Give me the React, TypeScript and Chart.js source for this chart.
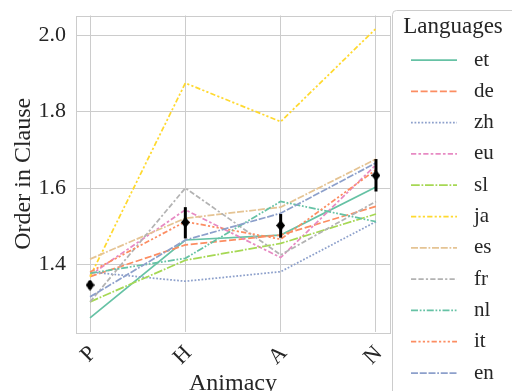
import React, { useEffect, useRef } from "react";
import { Chart, registerables } from "chart.js";

Chart.register(...registerables);

const categories = ["P", "H", "A", "N"];
const languages = ["et", "de", "zh", "eu", "sl", "ja", "es", "fr", "nl", "it", "en"];

const et = [1.26, 1.464, 1.477, 1.603];
const de = [1.368, 1.451, 1.477, 1.552];
const zh = [1.38, 1.356, 1.381, 1.512];
const eu = [1.372, 1.543, 1.418, 1.661];
const sl = [1.302, 1.411, 1.455, 1.532];
const ja = [1.368, 1.875, 1.774, 2.018];
const es = [1.414, 1.521, 1.55, 1.676];
const fr = [1.302, 1.6, 1.425, 1.565];
const nl = [1.377, 1.416, 1.565, 1.512];
const it = [1.38, 1.512, 1.466, 1.648];
const en = [1.315, 1.464, 1.534, 1.666];
const seriesValues = [et, de, zh, eu, sl, ja, es, fr, nl, it, en];

const meanValues = [1.346, 1.51, 1.502, 1.633];
const meanLower = [1.335, 1.468, 1.47, 1.591];
const meanUpper = [1.357, 1.55, 1.532, 1.676];

const yTicks = [1.4, 1.6, 1.8, 2.0];

// styles
const palette = ["#66c2a5", "#fc8d62", "#8da0cb", "#e78ac3", "#a6d854", "#ffd92f", "#e5c494", "#b3b3b3", "#66c2a5", "#fc8d62", "#8da0cb"];
const dashSpecs: number[][] = [
  [],
  [4, 1.5],
  [1, 1],
  [3, 1.25, 1.5, 1.25],
  [5, 1, 1, 1],
  [3, 1.25, 1.25, 1.25, 1.25, 1.25],
  [4, 1, 4, 1, 1, 1],
  [3, 1.25, 3, 1.25, 1.25, 1.25],
  [4, 1, 1, 1, 1, 1],
  [3, 1.25, 1.25, 1.25, 1.25, 1.25, 1.25, 1.25],
  [4, 1, 4, 1, 4, 1, 1, 1],
];
const LW = 1.75;
const FONT = "'Liberation Serif', 'Times New Roman', serif";
const TEXT = "#262626";
const GRID = "#cccccc";

function makeDiamond() {
  const c = document.createElement("canvas");
  c.width = 9;
  c.height = 11;
  const g = c.getContext("2d")!;
  g.fillStyle = "#000";
  g.beginPath();
  g.moveTo(4.5, 0);
  g.lineTo(9, 5.5);
  g.lineTo(4.5, 11);
  g.lineTo(0, 5.5);
  g.closePath();
  g.fill();
  return c;
}

const framePlugin = {
  id: "frame",
  beforeDatasetsDraw(chart: any) {
    const { ctx, chartArea: a } = chart;
    ctx.save();
    ctx.strokeStyle = GRID;
    ctx.lineWidth = 1;
    ctx.strokeRect(Math.round(a.left) + 0.5, Math.round(a.top) + 0.5, Math.round(a.right - a.left), Math.round(a.bottom - a.top));
    ctx.restore();
  },
};

const errorBarPlugin = {
  id: "errbars",
  afterDatasetsDraw(chart: any) {
    const { ctx } = chart;
    const xs = chart.scales.x;
    const ys = chart.scales.y;
    ctx.save();
    ctx.strokeStyle = "#000";
    ctx.lineWidth = 3;
    meanValues.forEach((_, i) => {
      const px = xs.getPixelForValue(i);
      ctx.beginPath();
      ctx.moveTo(px, ys.getPixelForValue(meanLower[i]));
      ctx.lineTo(px, ys.getPixelForValue(meanUpper[i]));
      ctx.stroke();
    });
    ctx.restore();
  },
};

const legendPlugin = {
  id: "customLegend",
  afterDraw(chart: any) {
    const { ctx } = chart;
    const left = 392.5;
    const top = 10.5;
    const w = 140;
    const h = 420;
    const r = 4;
    ctx.save();
    ctx.beginPath();
    ctx.moveTo(left + r, top);
    ctx.lineTo(left + w - r, top);
    ctx.arcTo(left + w, top, left + w, top + r, r);
    ctx.lineTo(left + w, top + h - r);
    ctx.arcTo(left + w, top + h, left + w - r, top + h, r);
    ctx.lineTo(left + r, top + h);
    ctx.arcTo(left, top + h, left, top + h - r, r);
    ctx.lineTo(left, top + r);
    ctx.arcTo(left, top, left + r, top, r);
    ctx.closePath();
    ctx.fillStyle = "rgba(255,255,255,0.8)";
    ctx.fill();
    ctx.strokeStyle = GRID;
    ctx.lineWidth = 1;
    ctx.stroke();

    ctx.fillStyle = TEXT;
    ctx.font = `23px ${FONT}`;
    ctx.textAlign = "center";
    ctx.textBaseline = "alphabetic";
    ctx.fillText("Languages", 453, 33);

    const ds = chart.data.datasets.filter((d: any) => d.isSeries);
    ds.forEach((d: any, i: number) => {
      const y = 60 + i * 31.3;
      ctx.strokeStyle = d.borderColor;
      ctx.lineWidth = d.borderWidth;
      ctx.setLineDash(d.borderDash || []);
      ctx.beginPath();
      ctx.moveTo(411, y);
      ctx.lineTo(457, y);
      ctx.stroke();
      ctx.setLineDash([]);
      ctx.fillStyle = TEXT;
      ctx.font = `21px ${FONT}`;
      ctx.textAlign = "left";
      ctx.textBaseline = "middle";
      ctx.fillText(d.label, 474, y);
    });
    ctx.restore();
  },
};

export default function App() {
  const ref = useRef<HTMLCanvasElement | null>(null);
  useEffect(() => {
    if (!ref.current) return;
    const diamond = makeDiamond();
    const datasets: any[] = languages.map((lang, i) => ({
      label: lang,
      isSeries: true,
      data: seriesValues[i].map((v, j) => ({ x: j, y: v })),
      borderColor: palette[i],
      backgroundColor: palette[i],
      borderWidth: LW,
      borderDash: dashSpecs[i].map((d) => d * LW),
      pointRadius: 0,
      tension: 0,
      order: 20 - i,
    }));
    datasets.push({
      label: "mean",
      isSeries: false,
      data: meanValues.map((v, j) => ({ x: j, y: v })),
      showLine: false,
      pointStyle: diamond,
      pointRadius: 5,
      borderColor: "#000",
      backgroundColor: "#000",
      order: -1,
    });
    const chart = new Chart(ref.current, {
      type: "line",
      data: { datasets },
      options: {
        animation: false,
        responsive: false,
        maintainAspectRatio: false,
        layout: { padding: { left: 0, top: 15, right: 122, bottom: 0 } },
        plugins: { legend: { display: false }, tooltip: { enabled: false } },
        scales: {
          x: {
            type: "linear",
            min: -0.147,
            max: 3.147,
            afterBuildTicks: (s: any) => {
              s.ticks = categories.map((_, i) => ({ value: i }));
            },
            afterFit: (s: any) => {
              s.height = 59;
            },
            ticks: {
              callback: (v: any) => categories[v] ?? "",
              minRotation: 45,
              maxRotation: 45,
              autoSkip: false,
              color: TEXT,
              font: { family: FONT, size: 22, lineHeight: 0.5 },
              padding: 14,
              labelOffset: 3,
            },
            grid: { color: GRID, lineWidth: 1, drawTicks: false },
            border: { display: false },
            title: {
              display: true,
              text: "Animacy",
              color: TEXT,
              font: { family: FONT, size: 24, lineHeight: 0.58 },
              padding: { top: 0, bottom: 0 },
            },
          },
          y: {
            type: "linear",
            min: 1.223,
            max: 2.052,
            afterBuildTicks: (s: any) => {
              s.ticks = yTicks.map((v) => ({ value: v }));
            },
            afterFit: (s: any) => {
              s.width = 76;
            },
            ticks: {
              callback: (v: any) => Number(v).toFixed(1),
              color: TEXT,
              font: { family: FONT, size: 22, lineHeight: 0.5 },
              padding: 10,
            },
            grid: { color: GRID, lineWidth: 1, drawTicks: false },
            border: { display: false },
            title: {
              display: true,
              text: "Order in Clause",
              color: TEXT,
              font: { family: FONT, size: 24, lineHeight: 1.2 },
              padding: { top: 9, bottom: 0 },
            },
          },
        },
      },
      plugins: [framePlugin, errorBarPlugin, legendPlugin],
    });
    return () => chart.destroy();
  }, []);
  return (
    <div style={{ position: "fixed", left: 0, top: 0, width: 512, height: 391, background: "#fff" }}>
      <canvas ref={ref} width={512} height={391} style={{ width: 512, height: 391, display: "block" }} />
    </div>
  );
}
